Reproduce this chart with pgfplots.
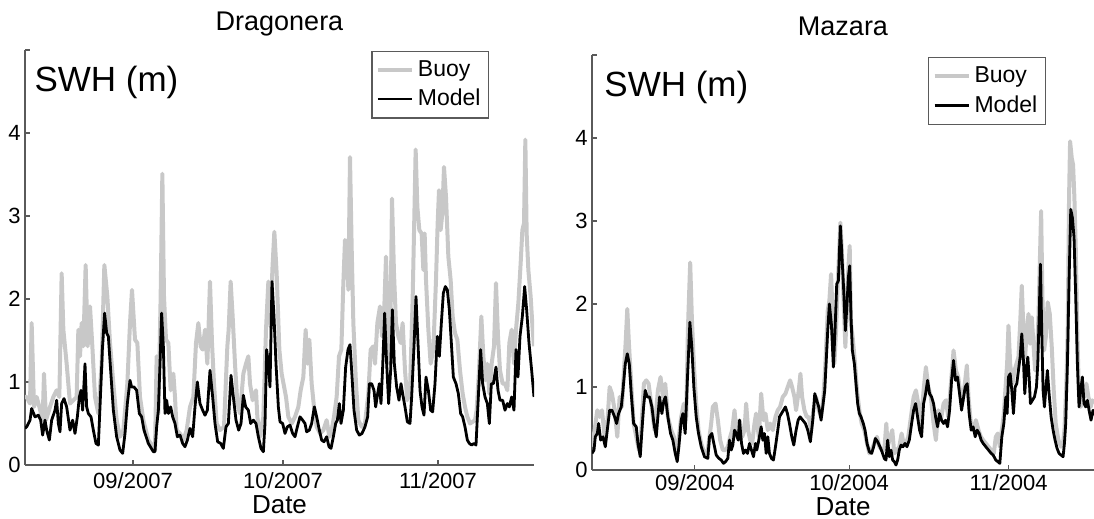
\documentclass[border=0pt]{standalone}
\usepackage{fontspec}
\setmainfont{Liberation Sans}
\usepackage{pgfplots}
\usepackage{pgfplotstable}
\pgfplotsset{compat=1.18}
\definecolor{buoy}{RGB}{200,200,200}
\definecolor{axgray}{RGB}{90,90,90}

\pgfplotstableread{
x y
9.4 0.82
9.73 0.82
10.4 0.74
10.73 1.71
11.2 0.70
11.73 0.82
12.27 0.70
12.93 0.54
13.2 1.10
13.6 0.54
14.4 0.70
15.07 0.82
15.73 0.90
16.27 0.82
16.73 2.31
17.07 1.63
17.73 1.22
18.4 0.74
19.07 0.78
19.73 0.82
20.07 1.63
20.4 1.31
20.73 1.71
21.07 1.43
21.53 2.41
21.93 1.43
22.4 1.91
22.87 1.43
23.4 0.82
24.07 0.62
24.73 1.22
25.27 2.41
25.87 2.03
26.4 1.47
27.07 0.98
27.73 0.54
28.4 0.34
29.07 0.42
29.87 0.98
30.4 1.71
30.8 2.11
31.4 1.51
31.87 1.47
32.4 0.82
33.07 0.54
34.07 0.30
35.07 0.22
35.4 0.18
35.73 1.31
36.07 0.62
36.53 2.03
36.87 3.51
37.2 2.03
37.6 1.51
38.07 1.47
38.53 0.90
39.07 1.10
39.4 0.82
39.73 0.42
40.4 0.38
41.07 0.30
41.73 0.42
42.4 0.70
43.07 0.82
43.6 1.47
44.07 1.71
44.53 1.43
44.93 1.39
45.4 1.63
45.87 1.22
46.4 2.21
46.8 1.47
47.2 0.98
47.73 0.50
48.4 0.42
49.2 0.46
49.87 1.43
50.13 1.63
50.53 2.21
50.93 1.79
51.4 1.22
51.87 0.74
52.4 0.62
53.07 1.10
53.6 1.22
54.07 1.31
54.4 0.98
54.93 0.78
55.6 0.90
55.87 0.58
56.4 0.34
57.07 0.58
57.6 1.63
58.07 2.21
58.53 1.67
58.87 2.35
59.27 2.81
59.73 2.31
60.27 1.39
60.73 1.10
61.6 0.82
62.07 0.58
62.73 0.50
63.4 0.58
64.07 0.70
64.53 0.90
65.07 1.06
65.53 1.63
65.87 1.22
66.27 1.51
66.73 0.98
67.2 0.70
67.73 0.46
68.4 0.38
69.07 0.42
69.73 0.54
70.27 0.34
70.73 0.42
71.2 0.58
71.73 0.82
72.2 1.31
72.67 1.39
73.07 2.19
73.4 2.71
73.73 2.67
74.07 2.11
74.4 3.71
74.73 2.63
75.07 1.71
75.6 0.98
76.07 0.54
76.73 0.46
77.4 0.50
78.07 0.86
78.53 1.39
79.07 1.43
79.4 1.22
79.87 1.71
80.4 1.91
80.8 1.55
81.2 1.79
81.6 2.51
81.93 1.79
82.4 1.22
82.8 3.21
83.2 2.31
83.6 1.71
84.07 1.55
84.53 1.47
84.93 1.71
85.4 1.14
85.87 0.78
86.4 0.90
86.93 2.00
87.27 3.00
87.53 3.80
87.87 3.11
88.27 2.83
88.73 2.79
89.07 2.35
89.33 2.79
89.6 2.23
90.07 1.63
90.53 1.22
91.07 1.39
91.6 2.23
91.93 2.91
92.2 3.31
92.53 2.83
92.87 3.03
93.2 3.59
93.6 3.23
94.07 2.51
94.53 2.23
94.93 1.79
95.4 1.59
95.87 1.51
96.4 1.14
96.93 0.86
97.4 0.70
97.87 0.58
98.4 0.50
98.93 0.52
99.4 0.54
99.73 0.66
100.2 1.14
100.67 1.79
101.07 1.31
101.47 1.02
101.87 1.22
102.27 0.86
102.73 1.22
103.2 1.43
103.6 2.19
104.0 1.55
104.4 1.14
104.93 0.98
105.4 0.98
105.87 0.90
106.27 1.47
106.73 1.63
107.2 1.22
107.6 1.63
108.07 1.95
108.53 2.43
108.87 2.83
109.2 2.91
109.47 3.92
109.73 2.79
110.07 2.35
110.53 2.03
110.93 1.63
111.2 1.43
}\leftbuoy

\pgfplotstableread{
x y
9.4 0.44
9.73 0.46
10.4 0.54
10.73 0.68
11.4 0.58
12.07 0.60
12.53 0.54
12.93 0.36
13.4 0.54
13.73 0.42
14.27 0.30
14.73 0.54
15.4 0.66
15.73 0.78
16.07 0.50
16.4 0.40
16.73 0.74
17.2 0.80
17.73 0.70
18.4 0.42
18.93 0.54
19.4 0.38
19.87 0.58
20.27 0.82
20.6 0.90
20.93 0.66
21.4 1.22
21.73 0.70
22.07 0.62
22.6 0.58
23.07 0.42
23.6 0.26
24.07 0.24
24.4 0.70
24.87 1.39
25.33 1.83
25.73 1.59
26.07 1.55
26.53 1.14
27.07 0.66
27.73 0.34
28.4 0.18
28.93 0.14
29.4 0.38
29.87 0.74
30.4 1.02
30.73 0.94
31.2 0.94
31.73 0.90
32.27 0.62
32.73 0.58
33.2 0.42
34.07 0.26
35.07 0.16
35.4 0.16
35.73 0.46
36.07 0.66
36.4 1.22
36.73 1.83
37.07 1.43
37.4 0.62
37.73 0.78
38.07 0.62
38.53 0.70
38.93 0.58
39.4 0.50
39.87 0.34
40.4 0.36
40.93 0.26
41.4 0.22
41.87 0.30
42.4 0.44
42.93 0.34
43.4 0.70
43.87 1.00
44.4 0.74
44.93 0.66
45.4 0.60
45.87 0.66
46.4 1.14
46.93 0.82
47.4 0.50
47.93 0.28
48.53 0.26
49.07 0.20
49.6 0.46
50.07 0.50
50.6 1.08
51.07 0.82
51.6 0.54
52.13 0.42
52.6 0.50
53.07 0.84
53.53 0.70
54.07 0.66
54.53 0.50
55.07 0.54
55.6 0.50
56.07 0.34
56.6 0.20
57.07 0.16
57.4 0.50
57.73 1.39
58.07 1.22
58.4 0.94
58.8 2.21
59.2 1.79
59.6 1.22
60.07 0.70
60.4 0.52
60.93 0.50
61.4 0.38
61.87 0.46
62.4 0.48
62.93 0.38
63.4 0.34
63.87 0.46
64.4 0.58
64.93 0.54
65.4 0.50
65.73 0.40
66.27 0.42
66.73 0.50
67.27 0.70
67.73 0.58
68.27 0.42
68.73 0.30
69.2 0.28
69.73 0.34
70.2 0.22
70.6 0.20
71.07 0.34
71.53 0.50
71.87 0.54
72.27 0.74
72.6 0.50
73.07 0.66
73.53 1.18
74.0 1.39
74.4 1.45
74.73 1.14
75.2 0.66
75.73 0.42
76.27 0.36
76.8 0.38
77.4 0.46
77.93 0.58
78.27 0.98
78.73 0.98
79.2 0.90
79.53 0.70
79.93 0.86
80.27 0.98
80.6 0.74
80.93 1.18
81.33 1.83
81.73 1.22
82.13 0.74
82.53 1.14
82.87 1.87
83.27 1.22
83.73 0.94
84.2 0.78
84.6 0.98
84.93 0.86
85.4 0.70
85.87 0.52
86.4 0.50
86.73 0.82
87.2 1.43
87.6 2.03
88.0 1.47
88.4 0.90
88.8 0.70
89.2 0.60
89.6 1.06
90.07 0.90
90.53 0.66
90.93 0.64
91.4 0.98
91.87 1.55
92.27 1.31
92.67 1.71
93.07 2.07
93.47 2.15
93.87 2.11
94.27 1.87
94.67 1.47
95.07 1.06
95.6 0.98
96.07 0.86
96.53 0.62
96.93 0.58
97.4 0.46
97.87 0.30
98.27 0.26
98.73 0.24
99.2 0.26
99.6 0.24
100.0 0.74
100.53 1.39
100.93 0.98
101.4 0.82
101.87 0.74
102.27 0.50
102.67 0.98
103.07 0.98
103.6 1.18
104.0 0.90
104.4 0.78
104.93 0.78
105.4 0.66
105.87 0.74
106.27 0.70
106.73 0.82
107.2 0.66
107.6 1.39
108.0 1.06
108.4 1.55
108.87 1.79
109.33 2.15
109.73 1.87
110.2 1.47
110.73 1.14
111.2 0.82
}\leftmodel

\pgfplotstableread{
x y
11.0 0.28
11.51 0.48
12.03 0.72
12.49 0.64
12.94 0.72
13.46 0.40
13.97 0.56
14.43 1.00
14.88 0.92
15.4 0.72
15.92 0.40
16.37 0.88
16.82 0.76
17.21 1.20
17.53 1.52
17.86 1.94
18.18 1.52
18.63 1.04
19.09 0.56
19.61 0.40
20.12 0.24
20.58 0.48
21.09 1.04
21.55 1.08
22.0 1.04
22.52 0.80
23.16 0.48
23.81 0.96
24.33 1.12
24.78 0.88
25.24 1.04
25.75 0.64
26.4 0.48
26.92 0.40
27.37 0.20
27.83 0.36
28.34 0.64
28.86 0.80
29.31 0.60
29.64 1.68
30.09 2.50
30.41 1.84
30.8 1.28
31.26 0.80
31.71 0.48
32.23 0.32
32.87 0.20
33.52 0.24
34.17 0.56
34.49 0.76
35.02 0.80
35.47 0.60
35.92 0.36
36.44 0.24
36.96 0.24
37.41 0.28
37.87 0.40
38.25 0.48
38.71 0.72
39.16 0.40
39.68 0.60
40.2 0.40
40.65 0.48
40.97 0.80
41.36 0.48
41.75 0.36
42.14 0.32
42.59 0.56
42.91 0.68
43.43 0.40
43.89 0.92
44.34 0.60
44.73 0.68
45.18 0.48
45.63 0.56
46.15 0.48
46.67 0.64
47.12 0.72
47.57 0.76
48.09 0.88
48.61 0.92
49.06 1.00
49.52 1.08
49.9 1.00
50.36 0.88
50.68 0.72
51.2 0.96
51.52 1.16
51.85 0.88
52.3 0.72
52.75 0.64
53.14 0.64
53.59 0.48
54.05 0.72
54.56 0.88
55.08 0.72
55.54 0.64
55.99 0.88
56.38 1.28
56.83 1.92
57.15 2.04
57.48 2.36
57.8 1.84
58.12 1.28
58.45 1.68
58.77 2.24
59.29 2.98
59.55 2.68
59.94 2.00
60.26 1.48
60.71 2.28
61.1 2.70
61.36 1.76
61.68 1.60
62.14 1.28
62.52 0.96
62.98 0.72
63.43 0.56
63.95 0.48
64.47 0.32
64.92 0.20
65.37 0.24
65.89 0.32
66.41 0.40
66.86 0.28
67.38 0.24
67.83 0.24
68.22 0.56
68.48 0.28
68.99 0.40
69.38 0.48
69.77 0.20
70.29 0.24
70.74 0.28
71.2 0.44
71.59 0.32
72.04 0.32
72.49 0.40
73.01 0.64
73.53 0.88
73.98 0.96
74.43 0.80
74.95 0.56
75.47 0.96
75.92 1.24
76.38 1.00
76.89 0.88
77.41 0.56
77.86 0.36
78.32 0.72
78.83 0.60
79.35 0.80
79.81 0.84
80.26 0.64
80.78 1.04
81.29 1.44
81.75 1.20
82.2 1.12
82.72 0.88
83.04 0.82
83.56 1.08
83.88 1.26
84.2 0.88
84.66 0.56
85.11 0.48
85.63 0.60
86.15 0.48
86.6 0.40
87.05 0.36
87.57 0.32
88.09 0.28
88.61 0.24
89.12 0.20
89.51 0.40
89.9 0.44
90.29 0.28
90.68 0.48
91.07 0.68
91.45 1.04
91.71 1.28
91.97 1.74
92.3 1.28
92.75 1.04
93.14 1.20
93.53 1.28
93.91 1.36
94.24 1.76
94.56 2.22
94.88 1.68
95.21 1.36
95.53 1.68
95.86 1.88
96.18 1.52
96.5 1.84
96.83 1.52
97.15 1.20
97.54 1.44
97.8 1.84
98.06 2.48
98.32 3.12
98.57 2.08
98.9 1.44
99.22 1.60
99.61 2.02
100.0 1.88
100.39 1.48
100.77 0.96
101.16 0.56
101.68 0.36
102.2 0.28
102.59 0.32
102.85 0.48
103.23 1.04
103.49 1.68
103.75 3.28
103.95 3.96
104.27 3.76
104.53 3.68
104.79 3.28
105.05 2.68
105.37 1.60
105.69 0.88
106.02 0.76
106.34 0.96
106.66 0.88
107.12 1.04
107.51 0.88
107.96 0.76
108.28 0.84
108.6 0.80
}\rightbuoy

\pgfplotstableread{
x y
11.0 0.20
11.39 0.24
11.64 0.40
12.03 0.44
12.29 0.56
12.68 0.36
13.13 0.40
13.59 0.28
13.97 0.48
14.43 0.72
14.88 0.72
15.4 0.64
15.79 0.56
16.17 0.68
16.69 0.76
17.02 0.96
17.47 1.28
17.86 1.40
18.25 1.28
18.63 0.92
19.09 0.56
19.61 0.52
19.93 0.32
20.38 0.16
20.71 0.48
21.03 0.76
21.35 0.96
21.74 0.88
22.19 0.88
22.65 0.76
23.04 0.56
23.49 0.40
23.81 0.64
24.14 0.88
24.59 0.68
24.98 0.84
25.3 0.88
25.75 0.64
26.27 0.44
26.72 0.36
27.18 0.20
27.57 0.10
27.89 0.28
28.34 0.60
28.67 0.68
29.12 0.44
29.51 1.04
30.03 1.78
30.41 1.48
30.8 1.00
31.26 0.64
31.71 0.44
32.23 0.28
32.87 0.16
33.52 0.14
33.84 0.40
34.3 0.44
34.69 0.32
35.15 0.18
35.67 0.14
36.12 0.12
36.57 0.08
36.96 0.10
37.41 0.14
37.74 0.36
38.06 0.24
38.38 0.30
38.71 0.48
39.03 0.44
39.42 0.36
39.68 0.60
40.07 0.32
40.45 0.20
40.84 0.24
41.23 0.20
41.62 0.32
42.01 0.24
42.4 0.16
42.78 0.32
43.04 0.24
43.43 0.36
43.89 0.52
44.21 0.36
44.53 0.44
44.86 0.20
45.18 0.40
45.5 0.20
45.89 0.14
46.28 0.12
46.67 0.28
47.12 0.48
47.45 0.64
47.83 0.68
48.22 0.72
48.61 0.76
49.0 0.68
49.39 0.56
49.84 0.40
50.23 0.30
50.68 0.48
51.07 0.60
51.46 0.64
51.98 0.60
52.49 0.56
52.95 0.48
53.46 0.34
53.92 0.60
54.31 0.92
54.69 0.84
55.08 0.76
55.54 0.60
55.86 0.76
56.25 0.96
56.51 1.28
56.83 1.68
57.15 2.00
57.54 1.76
57.93 1.24
58.25 1.68
58.58 2.24
58.9 2.28
59.29 2.94
59.61 2.56
59.94 2.16
60.26 1.68
60.58 2.00
60.84 2.32
61.1 2.46
61.36 1.84
61.62 1.44
62.01 1.28
62.33 1.04
62.65 0.80
62.98 0.68
63.3 0.64
63.75 0.56
64.08 0.48
64.47 0.32
64.92 0.22
65.37 0.20
65.76 0.28
66.08 0.38
66.54 0.34
66.99 0.28
67.38 0.22
67.83 0.14
68.16 0.12
68.48 0.36
68.8 0.16
69.13 0.24
69.45 0.12
69.77 0.10
70.1 0.06
70.42 0.12
70.74 0.24
71.07 0.30
71.46 0.28
71.84 0.32
72.23 0.28
72.69 0.36
73.14 0.56
73.53 0.72
73.92 0.80
74.3 0.64
74.69 0.48
75.08 0.40
75.47 0.80
75.86 0.92
76.25 1.08
76.63 0.92
77.02 0.88
77.41 0.80
77.8 0.64
78.19 0.52
78.58 0.68
78.96 0.60
79.35 0.56
79.74 0.60
80.13 0.52
80.52 0.72
80.91 1.08
81.29 1.32
81.68 1.08
82.07 1.12
82.46 0.92
82.85 0.72
83.56 1.00
83.95 1.04
84.33 0.68
84.72 0.48
85.11 0.52
85.5 0.40
85.89 0.48
86.28 0.44
86.66 0.36
87.05 0.32
87.57 0.28
88.09 0.24
88.61 0.20
88.99 0.18
89.51 0.12
89.9 0.10
90.29 0.08
90.68 0.40
91.07 0.56
91.45 0.88
91.71 0.68
91.97 1.12
92.3 1.16
92.62 0.96
92.94 0.68
93.27 1.00
93.59 1.04
93.91 1.20
94.24 1.36
94.56 1.64
94.88 1.32
95.14 0.92
95.47 1.24
95.73 1.36
95.99 1.12
96.24 0.80
96.63 0.84
97.02 0.88
97.41 1.00
97.67 1.28
97.93 1.84
98.19 2.48
98.44 1.68
98.7 0.96
98.96 0.76
99.22 0.96
99.54 1.20
99.87 0.92
100.26 0.64
100.65 0.48
101.03 0.36
101.42 0.26
101.81 0.20
102.2 0.18
102.59 0.16
102.85 0.32
103.1 0.56
103.43 1.28
103.75 2.28
104.08 3.14
104.4 3.04
104.72 2.80
105.05 2.08
105.37 1.28
105.69 0.76
106.02 0.96
106.34 1.12
106.66 0.80
106.99 0.76
107.31 0.84
107.64 0.72
108.02 0.60
108.41 0.72
108.6 0.66
}\rightmodel

\pgfplotsset{swh/.style={
  scale only axis,
  height=207.5pt,
  ymin=0, ymax=5,
  ytick={0,1,2,3,4,5}, yticklabels={0,1,2,3,4,{}},
  axis x line*=bottom, axis y line*=left,
  axis line style={axgray, line width=0.6pt},
  every tick/.style={axgray, line width=0.6pt},
  tick align=inside, major tick length=2.5pt,
  /pgf/number format/assume math mode=true,
  every tick label/.append style={font=\fontsize{11}{13}\selectfont},
  yticklabel style={anchor=east, inner sep=0pt, xshift=-2pt},
  xticklabel style={anchor=base, inner sep=0pt, yshift=-12pt},
  xlabel={Date},
  xlabel style={font=\fontsize{13}{15}\selectfont, inner sep=0pt, at={(0.5,0)}, anchor=base, yshift=-24.5pt},
  title style={font=\fontsize{13.5}{16}\selectfont, at={(0.5,1)}, anchor=base, yshift=3.5pt},
  legend style={draw=axgray, line width=0.6pt, font=\fontsize{11.5}{13}\selectfont,
    anchor=north east, inner xsep=2pt, inner ysep=2.5pt, row sep=1pt, fill=white},
  legend cell align=left,
  legend image code/.code={\draw[#1] (0pt,0pt) -- (17pt,0pt);},
  buoyline/.style={buoy, line width=2pt, line join=round},
  modelline/.style={black, line width=1.4pt, line join=round},
}}

\begin{document}
\begin{tikzpicture}
\useasboundingbox (0,0) rectangle (547pt,259.5pt);
\begin{axis}[swh, at={(12.5pt,27pt)}, anchor=south west, width=254.5pt,
  xmin=9.4, xmax=111.2, xtick={31,61,92}, xticklabels={09/2007,10/2007,11/2007},
  title={Dragonera},
  legend style={at={(0.912,0.998)}}]
\addplot[buoyline] table[x=x,y=y] {\leftbuoy};
\addlegendentry{Buoy}
\addplot[modelline] table[x=x,y=y] {\leftmodel};
\addlegendentry{Model}
\node[anchor=base west, inner sep=0pt, font=\fontsize{17.5}{20}\selectfont] at (rel axis cs:0.018,0.901) {SWH (m)};
\end{axis}
\begin{axis}[swh, at={(296pt,24.5pt)}, anchor=south west, width=251pt,
  xmin=11.0, xmax=108.6, xtick={31,61,92}, xticklabels={09/2004,10/2004,11/2004},
  title={Mazara},
  xticklabel style={yshift=1.5pt},
  xlabel style={yshift=1.5pt},
  legend style={at={(0.904,0.995)}}]
\addplot[buoyline] table[x=x,y=y] {\rightbuoy};
\addlegendentry{Buoy}
\addplot[modelline] table[x=x,y=y] {\rightmodel};
\addlegendentry{Model}
\node[anchor=base west, inner sep=0pt, font=\fontsize{17.5}{20}\selectfont] at (rel axis cs:0.024,0.901) {SWH (m)};
\end{axis}
\end{tikzpicture}
\end{document}
